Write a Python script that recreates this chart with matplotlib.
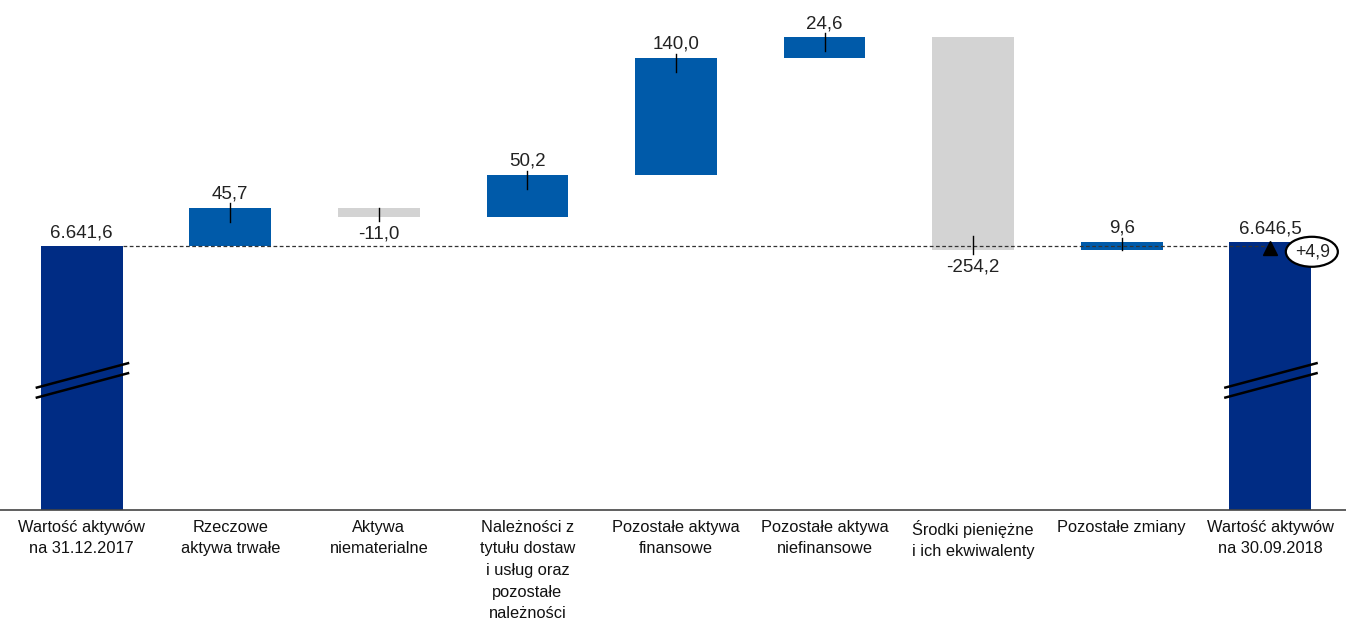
import numpy as np
import matplotlib.pyplot as plt
from matplotlib.patches import Ellipse

plt.rcParams['font.family'] = ['Liberation Sans', 'DejaVu Sans']

# dane
categories = ['Wartość aktywów\nna 31.12.2017', 'Rzeczowe\naktywa trwałe', 'Aktywa\nniematerialne',
              'Należności z\ntytułu dostaw\ni usług oraz\npozostałe\nnależności',
              'Pozostałe aktywa\nfinansowe', 'Pozostałe aktywa\nniefinansowe',
              'Środki pieniężne\ni ich ekwiwalenty', 'Pozostałe zmiany',
              'Wartość aktywów\nna 30.09.2018']
start_value = 6641.6
changes = [45.7, -11.0, 50.2, 140.0, 24.6, -254.2, 9.6]
end_value = 6646.5
diff_label = '+4,9'

c_total = '#002C84'
c_up = '#005AA9'
c_down = '#D3D3D3'


def fmt(v):
    s = f'{abs(v):,.1f}'.replace(',', ' ').replace('.', ',').replace(' ', '.')
    if v < 0:
        s = '-' + s
    return s


y_bottom = 6326.0
y_top = 6935.5

fig = plt.figure(figsize=(13.46, 6.34), dpi=100)
ax = fig.add_axes([0, 124 / 634, 1, 510 / 634])
ax.set_xlim(-0.55, 8.51)
ax.set_ylim(y_bottom, y_top)

w = 0.55
x = np.arange(len(categories))
px = 0.837  # px na jednostkę (oś y)

# kumulacja
ch = np.array(changes)
cum = start_value + np.concatenate([[0], np.cumsum(ch)])
bottoms = np.minimum(cum[:-1], cum[1:])
heights = np.abs(ch)
colors = [c_up if v > 0 else c_down for v in ch]

# linia bazowa
ax.plot([x[0] + w / 2, x[-1]], [start_value, start_value], ls=(0, (3, 2)), color='#333333', lw=0.9, zorder=3)

ax.bar(x[0], start_value - y_bottom, bottom=y_bottom, width=w, color=c_total, zorder=2)
ax.bar(x[-1], end_value - y_bottom, bottom=y_bottom, width=w, color=c_total, zorder=2)
ax.bar(x[1:-1], heights, bottom=bottoms, width=w, color=colors, zorder=2)

# etykiety wartości
for xi, v, a, b in zip(x[1:-1], ch, cum[:-1], cum[1:]):
    inner = min(17, abs(v))
    if v > 0:
        ax.plot([xi, xi], [b + 5, b - inner], color='black', lw=1, zorder=4)
        ax.annotate(fmt(v), (xi, b + 5), xytext=(0, 3.5), textcoords='offset points',
                    ha='center', va='baseline', fontsize=13.5, color='#222222')
    else:
        ax.plot([xi, xi], [b - 5, b + inner], color='black', lw=1, zorder=4)
        ax.annotate(fmt(v), (xi, b - 5), xytext=(0, -3), textcoords='offset points',
                    ha='center', va='top', fontsize=13.5, color='#222222')

for xi, v in [(x[0], start_value), (x[-1], end_value)]:
    ax.annotate(fmt(v), (xi, v), xytext=(0, 6), textcoords='offset points',
                ha='center', va='baseline', fontsize=13.5, color='#222222')

# strzałka i różnica
ax.plot(x[-1], start_value - 2.5, marker='^', color='black', ms=10, zorder=5)
ex, ey = x[-1] + 0.28, start_value - 7
ax.add_patch(Ellipse((ex, ey), 52 / 148.5, 30 / px, fc='white', ec='black', lw=1.6, zorder=6))
ax.text(ex + 0.005, ey, diff_label, ha='center', va='center', fontsize=12.8, color='#222222', zorder=7)

# przerwanie osi
for xi in [x[0], x[-1]]:
    for off in [0, 10]:
        y0 = start_value - (142 + off) / px
        y1 = start_value - (117 + off) / px
        ax.plot([xi - 0.31, xi + 0.32], [y0, y1], color='black', lw=1.8, zorder=5,
                solid_capstyle='butt')

ax.set_xticks(x)
ax.set_xticklabels(categories, fontsize=11.8, linespacing=1.55, color='#111111')
ax.tick_params(axis='x', length=0, pad=7)
ax.set_yticks([])
for s in ['top', 'left', 'right']:
    ax.spines[s].set_visible(False)
ax.spines['bottom'].set_color('#444444')
ax.spines['bottom'].set_linewidth(1.2)

fig.savefig('out.png', dpi=100)
